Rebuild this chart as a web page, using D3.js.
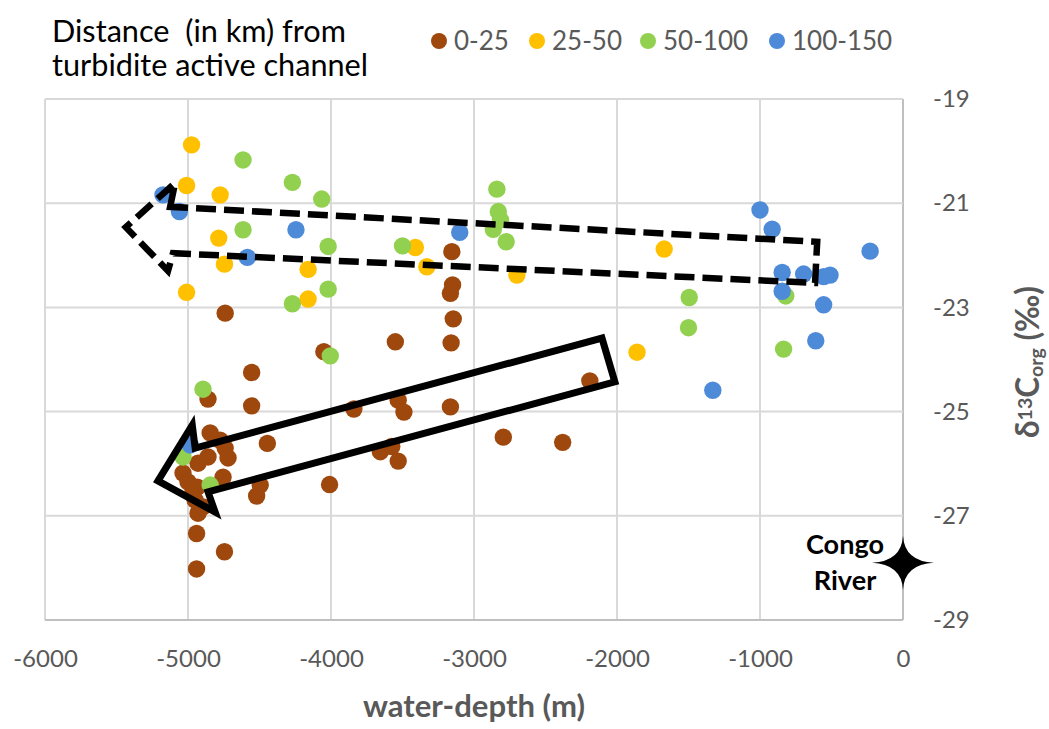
<!DOCTYPE html>
<html>
<head>
<meta charset="utf-8">
<script src="https://cdn.jsdelivr.net/npm/d3@7"></script>
<style>
  body { margin: 0; background: #fff; }
  svg { display: block; font-family: Lato, "Open Sans", sans-serif; }
</style>
</head>
<body>
<div id="chart"></div>
<script>
"use strict";

// distance classes (km from the turbidite active channel)
const classes = ["0-25", "25-50", "50-100", "100-150"];
const classColors = ["#9e480e", "#ffc000", "#92d050", "#4d8ad8"];

// 0-25 km
const depth0 = [-4740, -4050, -4555, -4860, -4555, -4445, -4010, -4495, -4520, -4940, -4745, -4940,
    -4845, -4775, -4740, -4720, -4860, -4930, -5035, -5000, -4935, -4755, -4950, -4930, -4895, -4965,
    -3155, -3150, -3165, -3145, -3550, -3160, -2190, -3840, -3530, -3490, -3165, -2795, -2380, -3655, -3575, -3530];
const d13c0 = [-23.11, -23.85, -24.25, -24.76, -24.89, -25.61, -26.40, -26.41, -26.62, -27.34, -27.69, -28.02,
    -25.41, -25.55, -25.70, -25.89, -25.87, -25.99, -26.18, -26.35, -26.45, -26.26, -26.70, -26.95, -26.83, -26.56,
    -21.93, -22.57, -22.73, -23.22, -23.66, -23.68, -24.41, -24.95, -24.78, -25.01, -24.91, -25.49, -25.59, -25.77, -25.67, -25.95];

// 25-50 km
const depth1 = [-4975, -5010, -4775, -4785, -4745, -4160, -5010, -4160, -3410, -3330, -2700, -1670, -1860];
const d13c1 = [-19.88, -20.66, -20.84, -21.67, -22.17, -22.27, -22.71, -22.84, -21.85, -22.22, -22.38, -21.88, -23.86];

// 50-100 km
const depth2 = [-4615, -4270, -4065, -4615, -4020, -4020, -4270, -4005, -3500, -2840, -2830, -2815, -2865, -2775,
    -1495, -1500, -820, -835, -4895, -5035, -4845];
const d13c2 = [-20.17, -20.60, -20.92, -21.51, -21.83, -22.65, -22.93, -23.93, -21.82, -20.73, -21.16, -21.32, -21.50, -21.74,
    -22.81, -23.39, -22.78, -23.80, -24.57, -25.87, -26.41];

// 100-150 km
const depth3 = [-5175, -5060, -4585, -4245, -3100, -1000, -915, -230, -845, -695, -555, -510, -845, -555, -610, -4985, -1330];
const d13c3 = [-20.84, -21.16, -22.04, -21.51, -21.56, -21.13, -21.50, -21.92, -22.33, -22.36, -22.41, -22.38, -22.69, -22.95,
    -23.64, -25.64, -24.59];

// axis ticks
const xTicks = [-6000, -5000, -4000, -3000, -2000, -1000, 0];
const yTicks = [-19, -21, -23, -25, -27, -29];

// annotation outlines, in data units (depth, d13C)
const dashedArrowDepth = [-5125, -5090, -5435, -5140, -5105, -615, -600];
const dashedArrowD13c = [-21.07, -20.61, -21.46, -22.30, -21.96, -22.53, -21.74];
const solidArrowDepth = [-5210, -4970, -4950, -2105, -2015, -4860, -4810];
const solidArrowD13c = [-26.33, -25.26, -25.70, -23.59, -24.43, -26.54, -26.93];
const riverDepth = 0;
const riverD13c = -27.9;

const msm = {
    width: 1049,
    height: 729,
    left: 45,
    right: 903,
    top: 99,
    bottom: 620
};

// shrink or grow a text's font size until it is as wide as the reference
function fitWidth(sel, target) {
    let w = sel.node().getComputedTextLength();
    let fs = parseFloat(sel.style("font-size"));
    if (w > 0) sel.style("font-size", (fs * target / w).toFixed(2) + "px");
    return parseFloat(sel.style("font-size"));
}

const svg = d3.select("#chart").append("svg")
    .attr("width", msm.width)
    .attr("height", msm.height);

svg.append("rect")
    .attr("width", msm.width)
    .attr("height", msm.height)
    .attr("fill", "#fff");

const x = d3.scaleLinear().domain([-6000, 0]).range([msm.left, msm.right]);
const y = d3.scaleLinear().domain([-29, -19]).range([msm.bottom, msm.top]);

// gridlines
svg.append("g")
    .selectAll("line")
    .data(xTicks)
    .join("line")
    .attr("x1", d => x(d)).attr("x2", d => x(d))
    .attr("y1", y(-19)).attr("y2", y(-29))
    .attr("stroke", d => d === 0 ? "#bfbfbf" : "#d9d9d9")
    .attr("stroke-width", 2);

svg.append("g")
    .selectAll("line")
    .data(yTicks)
    .join("line")
    .attr("x1", x(-6000)).attr("x2", x(0))
    .attr("y1", d => y(d)).attr("y2", d => y(d))
    .attr("stroke", d => d === -29 ? "#bfbfbf" : "#d9d9d9")
    .attr("stroke-width", 2);

// x axis labels
const xAxis = d3.axisBottom(x)
    .tickValues(xTicks)
    .tickFormat(d => String(d))
    .tickSize(0)
    .tickPadding(0);
const gx = svg.append("g")
    .attr("transform", "translate(0," + (msm.bottom + 30) + ")")
    .call(xAxis);
gx.select(".domain").remove();
gx.selectAll("text")
    .attr("dy", "0.71em")
    .attr("fill", "#595959")
    .style("font-size", "24px")
    .style("font-family", "Lato, sans-serif");

// y axis labels on the right
const yAxis = d3.axisRight(y)
    .tickValues(yTicks)
    .tickFormat(d => String(d))
    .tickSize(0)
    .tickPadding(0);
const gy = svg.append("g")
    .attr("transform", "translate(" + (msm.right + 30) + ",0)")
    .call(yAxis);
gy.select(".domain").remove();
gy.selectAll("text")
    .attr("fill", "#595959")
    .style("font-size", "24px")
    .style("font-family", "Lato, sans-serif");

// axis titles
const xTitle = svg.append("text")
    .attr("x", (msm.left + msm.right) / 2)
    .attr("y", 717)
    .attr("text-anchor", "middle")
    .attr("fill", "#595959")
    .style("font-size", "28px")
    .style("font-weight", "bold")
    .text("water-depth (m)");
fitWidth(xTitle, 222);

const yTitle = svg.append("text")
    .attr("transform", "translate(1039,362) rotate(-90)")
    .attr("text-anchor", "middle")
    .attr("fill", "#595959")
    .style("font-size", "28px")
    .style("font-weight", "bold")
    .style("white-space", "pre");
yTitle.append("tspan").text("δ");
yTitle.append("tspan").attr("dy", "-0.35em").style("font-size", "0.62em").text("13");
yTitle.append("tspan").attr("dy", "0.22em").text("C");
yTitle.append("tspan").attr("dy", "0.2em").style("font-size", "0.62em").text("org");
yTitle.append("tspan").attr("dy", "-0.12em").text(" (‰)");
fitWidth(yTitle, 152);

// heading
const head1 = svg.append("text")
    .attr("x", 52).attr("y", 42)
    .attr("fill", "#000")
    .style("font-size", "26px")
    .style("white-space", "pre")
    .text("Distance  (in km) from");
const headSize = fitWidth(head1, 294);
svg.append("text")
    .attr("x", 52).attr("y", 76)
    .attr("fill", "#000")
    .style("font-size", headSize + "px")
    .text("turbidite active channel");

// legend
const legendX = [439, 537, 648, 777];
const legend = svg.append("g")
    .selectAll("g")
    .data(classes)
    .join("g")
    .attr("transform", (d, i) => "translate(" + legendX[i] + ",41)");
legend.append("circle")
    .attr("r", 8)
    .attr("fill", (d, i) => classColors[i]);
legend.append("text")
    .attr("x", 15)
    .attr("y", 9)
    .attr("fill", "#595959")
    .style("font-size", "26px")
    .text(d => d);

// scatter points
const series = [
    { depth: depth0, d13c: d13c0 },
    { depth: depth1, d13c: d13c1 },
    { depth: depth2, d13c: d13c2 },
    { depth: depth3, d13c: d13c3 }
];
series.forEach((s, i) => {
    svg.append("g")
        .selectAll("circle")
        .data(s.depth.map((d, j) => [d, s.d13c[j]]))
        .join("circle")
        .attr("cx", d => x(d[0]))
        .attr("cy", d => y(d[1]))
        .attr("r", 8.7)
        .attr("fill", classColors[i]);
});

// arrows
const outline = d3.line().x(d => x(d[0])).y(d => y(d[1]));
svg.append("path")
    .attr("d", outline(dashedArrowDepth.map((d, i) => [d, dashedArrowD13c[i]])) + "Z")
    .attr("fill", "none")
    .attr("stroke", "#000")
    .attr("stroke-width", 6.5)
    .attr("stroke-dasharray", "20 8")
    .attr("stroke-linejoin", "miter");

svg.append("path")
    .attr("d", outline(solidArrowDepth.map((d, i) => [d, solidArrowD13c[i]])) + "Z")
    .attr("fill", "none")
    .attr("stroke", "#000")
    .attr("stroke-width", 7)
    .attr("stroke-linejoin", "miter");

// Congo River marker
const rx = x(riverDepth), ry = y(riverD13c);
svg.append("path")
    .attr("transform", "translate(" + rx + "," + ry + ")")
    .attr("d", "M0,-27 Q1.5,-1.5 31,0 Q1.5,1.5 0,27 Q-1.5,1.5 -31,0 Q-1.5,-1.5 0,-27Z")
    .attr("fill", "#000");

const congo = svg.append("text")
    .attr("x", rx - 58).attr("y", ry - 9)
    .attr("text-anchor", "middle")
    .attr("fill", "#000")
    .style("font-size", "25px")
    .style("font-weight", "bold")
    .text("Congo");
const congoSize = fitWidth(congo, 78);
svg.append("text")
    .attr("x", rx - 58).attr("y", ry + 27)
    .attr("text-anchor", "middle")
    .attr("fill", "#000")
    .style("font-size", congoSize + "px")
    .style("font-weight", "bold")
    .text("River");
</script>
</body>
</html>
